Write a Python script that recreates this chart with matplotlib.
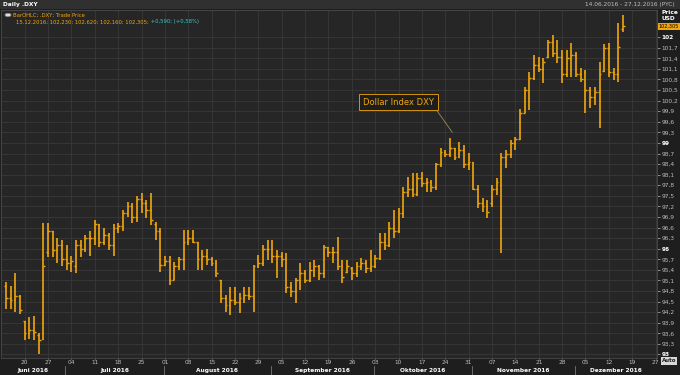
import numpy as np
import pandas as pd
import matplotlib
matplotlib.use('Agg')
import matplotlib.pyplot as plt
import matplotlib.transforms as mtransforms
from matplotlib.patches import Rectangle, Circle

plt.rcParams['font.family'] = ['DejaVu Sans']

# ── DATA (daily OHLC, .DXY, 14.06.2016 - 15.12.2016) ──
opens = [94.95, 94.60, 94.55, 94.65, 93.95, 93.60, 93.70, 93.55, 93.45, 95.90,
         96.50, 95.95, 96.10, 95.70, 95.60, 95.50, 96.10, 96.00, 96.30, 96.30,
         96.70, 96.20, 96.40, 96.10, 96.60, 96.65, 97.00, 97.20, 96.90, 97.40,
         97.30, 97.10, 96.70, 96.50, 95.55, 95.65, 95.10, 95.50, 95.70, 96.20,
         96.30, 96.20, 95.70, 95.80, 95.70, 95.60, 95.10, 94.60, 94.40, 94.55,
         94.50, 94.60, 94.70, 94.65, 95.50, 95.60, 96.00, 96.00, 95.80, 95.80,
         95.70, 94.90, 94.80, 95.10, 95.30, 95.10, 95.40, 95.50, 95.30, 96.05,
         95.90, 95.90, 95.50, 95.35, 95.45, 95.30, 95.50, 95.60, 95.45, 95.50,
         95.75, 96.20, 96.10, 96.60, 96.50, 97.00, 97.60, 97.70, 97.55, 98.00,
         97.85, 97.90, 97.75, 98.40, 98.75, 98.70, 98.85, 98.60, 98.80, 98.40,
         98.45, 97.70, 97.30, 97.20, 97.30, 97.70, 97.80, 98.60, 98.70, 99.00,
         99.10, 99.85, 100.50, 100.85, 101.20, 101.10, 101.45, 101.85, 101.55, 101.45,
         100.95, 101.40, 101.50, 100.95, 101.00, 100.50, 100.30, 100.45, 101.05, 101.70,
         101.00, 100.95, 102.23]
highs = [95.05, 94.95, 95.30, 94.70, 93.95, 94.05, 94.10, 93.60, 96.73, 96.73,
         96.50, 96.30, 96.25, 96.10, 95.80, 96.25, 96.25, 96.40, 96.50, 96.80,
         96.70, 96.60, 96.45, 96.70, 96.73, 97.10, 97.33, 97.30, 97.50, 97.58,
         97.38, 97.58, 96.76, 96.60, 95.80, 95.80, 95.63, 95.77, 96.54, 96.54,
         96.54, 96.20, 95.97, 96.00, 95.77, 95.69, 95.12, 94.70, 94.92, 94.92,
         94.75, 94.90, 94.90, 95.55, 95.83, 96.10, 96.25, 96.25, 95.97, 95.90,
         95.88, 95.06, 95.17, 95.60, 95.40, 95.63, 95.69, 95.55, 96.10, 96.05,
         96.05, 96.33, 95.69, 95.69, 95.48, 95.63, 95.74, 95.69, 95.97, 95.83,
         96.45, 96.45, 96.76, 97.10, 97.16, 97.75, 98.04, 98.15, 98.15, 98.18,
         98.00, 97.95, 98.43, 98.86, 98.80, 99.14, 98.86, 99.03, 98.94, 98.72,
         98.46, 97.81, 97.44, 97.39, 97.81, 98.00, 98.72, 98.80, 99.08, 99.17,
         99.95, 100.59, 101.00, 101.50, 101.44, 101.40, 101.93, 102.06, 101.92, 101.64,
         101.64, 101.83, 101.58, 101.12, 101.07, 100.60, 100.60, 101.30, 101.80, 101.83,
         101.12, 102.40, 102.62]
lows = [94.30, 94.30, 94.20, 94.15, 93.40, 93.45, 93.40, 93.00, 93.40, 95.77,
        95.77, 95.60, 95.50, 95.40, 95.35, 95.30, 95.77, 95.90, 95.80, 96.10,
        96.05, 96.10, 95.97, 95.80, 96.45, 96.50, 96.90, 96.73, 96.76, 97.00,
        96.87, 96.67, 96.25, 95.35, 95.50, 94.98, 95.10, 95.40, 95.40, 96.10,
        96.16, 95.40, 95.40, 95.55, 95.50, 95.20, 94.46, 94.20, 94.13, 94.40,
        94.18, 94.46, 94.55, 94.20, 95.45, 95.50, 95.69, 95.60, 95.17, 95.48,
        94.75, 94.64, 94.46, 94.84, 95.03, 95.06, 95.20, 95.12, 95.17, 95.77,
        95.60, 95.40, 95.03, 95.32, 95.12, 95.20, 95.40, 95.32, 95.35, 95.46,
        95.69, 95.97, 96.05, 96.30, 96.45, 96.87, 97.47, 97.47, 97.50, 97.75,
        97.60, 97.60, 97.67, 98.32, 98.60, 98.60, 98.52, 98.58, 98.29, 98.24,
        97.67, 97.16, 97.05, 96.87, 97.19, 97.52, 95.88, 98.30, 98.58, 98.80,
        99.08, 99.85, 99.93, 100.78, 101.00, 100.70, 101.40, 101.44, 101.27, 100.70,
        100.87, 100.87, 100.87, 100.73, 99.85, 100.00, 100.08, 99.43, 101.02, 100.87,
        100.79, 100.73, 102.16]
closes = [94.60, 94.55, 94.65, 94.25, 93.60, 93.70, 93.65, 93.40, 95.50, 96.50,
          95.95, 96.10, 95.70, 95.60, 95.65, 96.10, 96.00, 96.30, 96.30, 96.70,
          96.20, 96.40, 96.10, 96.60, 96.65, 97.00, 97.20, 96.90, 97.40, 97.30,
          97.10, 96.80, 96.50, 95.55, 95.65, 95.10, 95.50, 95.70, 96.20, 96.30,
          96.20, 95.70, 95.80, 95.70, 95.60, 95.30, 94.60, 94.40, 94.55, 94.50,
          94.60, 94.70, 94.65, 95.50, 95.60, 96.00, 96.00, 95.80, 95.80, 95.70,
          94.90, 94.80, 95.10, 95.30, 95.10, 95.40, 95.50, 95.30, 96.05, 95.90,
          95.90, 95.50, 95.20, 95.50, 95.30, 95.50, 95.60, 95.45, 95.50, 95.75,
          96.20, 96.10, 96.60, 96.50, 97.00, 97.60, 97.70, 97.55, 98.00, 97.85,
          97.90, 97.75, 98.40, 98.75, 98.70, 98.85, 98.60, 98.80, 98.40, 98.45,
          97.70, 97.30, 97.20, 97.05, 97.70, 97.90, 98.60, 98.70, 99.00, 99.10,
          99.85, 100.50, 100.85, 101.20, 101.10, 101.30, 101.85, 101.55, 101.45, 100.95,
          101.40, 101.50, 100.95, 100.80, 100.50, 100.30, 100.45, 100.95, 101.70, 101.00,
          100.95, 101.715, 102.305]

day_ticks = ['2016-06-20', '2016-06-27', '2016-07-04', '2016-07-11', '2016-07-18',
             '2016-07-25', '2016-08-01', '2016-08-08', '2016-08-15', '2016-08-22',
             '2016-08-29', '2016-09-05', '2016-09-12', '2016-09-19', '2016-09-26',
             '2016-10-03', '2016-10-10', '2016-10-17', '2016-10-24', '2016-10-31',
             '2016-11-07', '2016-11-14', '2016-11-21', '2016-11-28', '2016-12-05',
             '2016-12-12', '2016-12-19', '2016-12-27']
month_starts = ['2016-07-01', '2016-08-01', '2016-09-01', '2016-10-03',
                '2016-11-01', '2016-12-01']
month_names = ['Juni 2016', 'Juli 2016', 'August 2016', 'September 2016',
               'Oktober 2016', 'November 2016', 'Dezember 2016']
price_ticks = np.round(np.arange(93.0, 102.01, 0.3), 1)
last_price = 102.305

BG = '#262626'
GRID = '#383838'
BAR = '#f2a60c'
TXT = '#bdbdbd'
FS = 4.2

# trading-day axis
days = pd.bdate_range('2016-06-14', '2016-12-27').drop(pd.Timestamp('2016-12-26'))
pos = {d: i for i, d in enumerate(days)}
x = np.arange(len(opens))

fig = plt.figure(figsize=(6.8, 3.75), dpi=100, facecolor='#1e1e1e')
ax = fig.add_axes([0.0015, 1 - 358 / 375, 657 / 680 - 0.0015, 348 / 375])
ax.set_facecolor(BG)

# OHLC bars
ax.vlines(x, lows, highs, color=BAR, lw=1.2, zorder=3)
ax.hlines(opens, x - 0.38, x, color=BAR, lw=1.0, zorder=3)
ax.hlines(closes, x, x + 0.38, color=BAR, lw=1.0, zorder=3)

ax.set_xlim(-1.07, 139.3)
ax.set_ylim(92.9, 102.77)

# x axis: weekly day numbers
tick_idx = [pos[pd.Timestamp(d)] for d in day_ticks]
ax.set_xticks(tick_idx)
ax.set_xticklabels([pd.Timestamp(d).strftime('%d') for d in day_ticks])
ax.tick_params(axis='x', colors=TXT, labelsize=FS, length=1, pad=0.5, width=0.5)

# y axis on the right with comma decimals
ax.yaxis.tick_right()
ax.set_yticks(price_ticks)
ax.set_yticklabels([('%g' % v).replace('.', ',') for v in price_ticks])
ax.tick_params(axis='y', colors=TXT, labelsize=FS, length=2, pad=1.5, width=0.5)
for lab, v in zip(ax.get_yticklabels(), price_ticks):
    if abs(v - round(v)) < 1e-6:
        lab.set_color('white')
        lab.set_fontweight('bold')

ax.grid(True, color=GRID, lw=0.6, zorder=0)
for s in ax.spines.values():
    s.set_color('#4a4a4a')
    s.set_linewidth(0.6)

# month labels & separators below the day numbers
trans = mtransforms.blended_transform_factory(ax.transData, ax.transAxes)
seps = [pos[pd.Timestamp(d)] - 0.3 for d in month_starts]
edges = [-1.07] + seps + [139.3]
for i, name in enumerate(month_names):
    ax.text((edges[i] + edges[i + 1]) / 2, -0.036, name, transform=trans,
            ha='center', va='center', color='white', fontsize=FS,
            fontweight='bold', clip_on=False)
for s in seps:
    ax.plot([s, s], [-0.022, -0.05], transform=trans, color='#777777',
            lw=0.6, clip_on=False)

# current price box
ax.text(1.003, last_price, ('%.3f' % last_price).replace('.', ','),
        transform=mtransforms.blended_transform_factory(ax.transAxes, ax.transData),
        ha='left', va='center', fontsize=3.5, color='black', clip_on=False,
        bbox=dict(boxstyle='square,pad=0.15', fc=BAR, ec='none'))

# annotation
ax.annotate('Dollar Index DXY', xy=(95.5, 99.3), xytext=(84, 100.16),
            color=BAR, fontsize=6, ha='center', va='center',
            bbox=dict(boxstyle='square,pad=0.45', fc='#1e1e1e', ec=BAR, lw=0.6),
            arrowprops=dict(arrowstyle='-', color='#a08a50', lw=0.6,
                            relpos=(1, 0), shrinkA=0, shrinkB=0))

# header band
fig.patches.append(Rectangle((0, 1 - 9 / 375), 1, 9 / 375, transform=fig.transFigure,
                             fc='#303030', ec='none', zorder=0))
fig.text(0.004, 1 - 4.5 / 375, 'Daily .DXY', color='white', fontsize=FS,
         fontweight='bold', va='center')
fig.text(0.992, 1 - 4.5 / 375, '14.06.2016 - 27.12.2016 (PYC)', color=TXT,
         fontsize=FS, va='center', ha='right')
fig.text(662 / 680, 1 - 12 / 375, 'Price', color='white', fontsize=FS,
         fontweight='bold', va='center')
fig.text(662 / 680, 1 - 19 / 375, 'USD', color='white', fontsize=FS,
         fontweight='bold', va='center')

# legend lines
fig.patches.append(Circle((8 / 680, 1 - 15 / 375), 0.0045, transform=fig.transFigure,
                          fc='#dddddd', ec='#888888', lw=0.5))
fig.text(13 / 680, 1 - 15 / 375, 'BarOHLC; .DXY; Trade Price', color=BAR,
         fontsize=3.8, va='center')
leg2 = fig.text(16 / 680, 1 - 22 / 375,
                '15.12.2016; 102,230; 102,620; 102,160; 102,305;', color=BAR,
                fontsize=3.8, va='center')
ax.annotate(' +0,590; (+0,58%)', xy=(1, 0.5), xycoords=leg2, color='#33cccc',
            fontsize=3.8, va='center', ha='left', annotation_clip=False)

# Auto button
fig.text(669 / 680, 1 - 361 / 375, 'Auto', color='#222222', fontsize=4,
         fontweight='bold', ha='center', va='center',
         bbox=dict(boxstyle='square,pad=0.2', fc='#d8d8d8', ec='none'))

plt.savefig('out.png', dpi=100, facecolor=fig.get_facecolor())
